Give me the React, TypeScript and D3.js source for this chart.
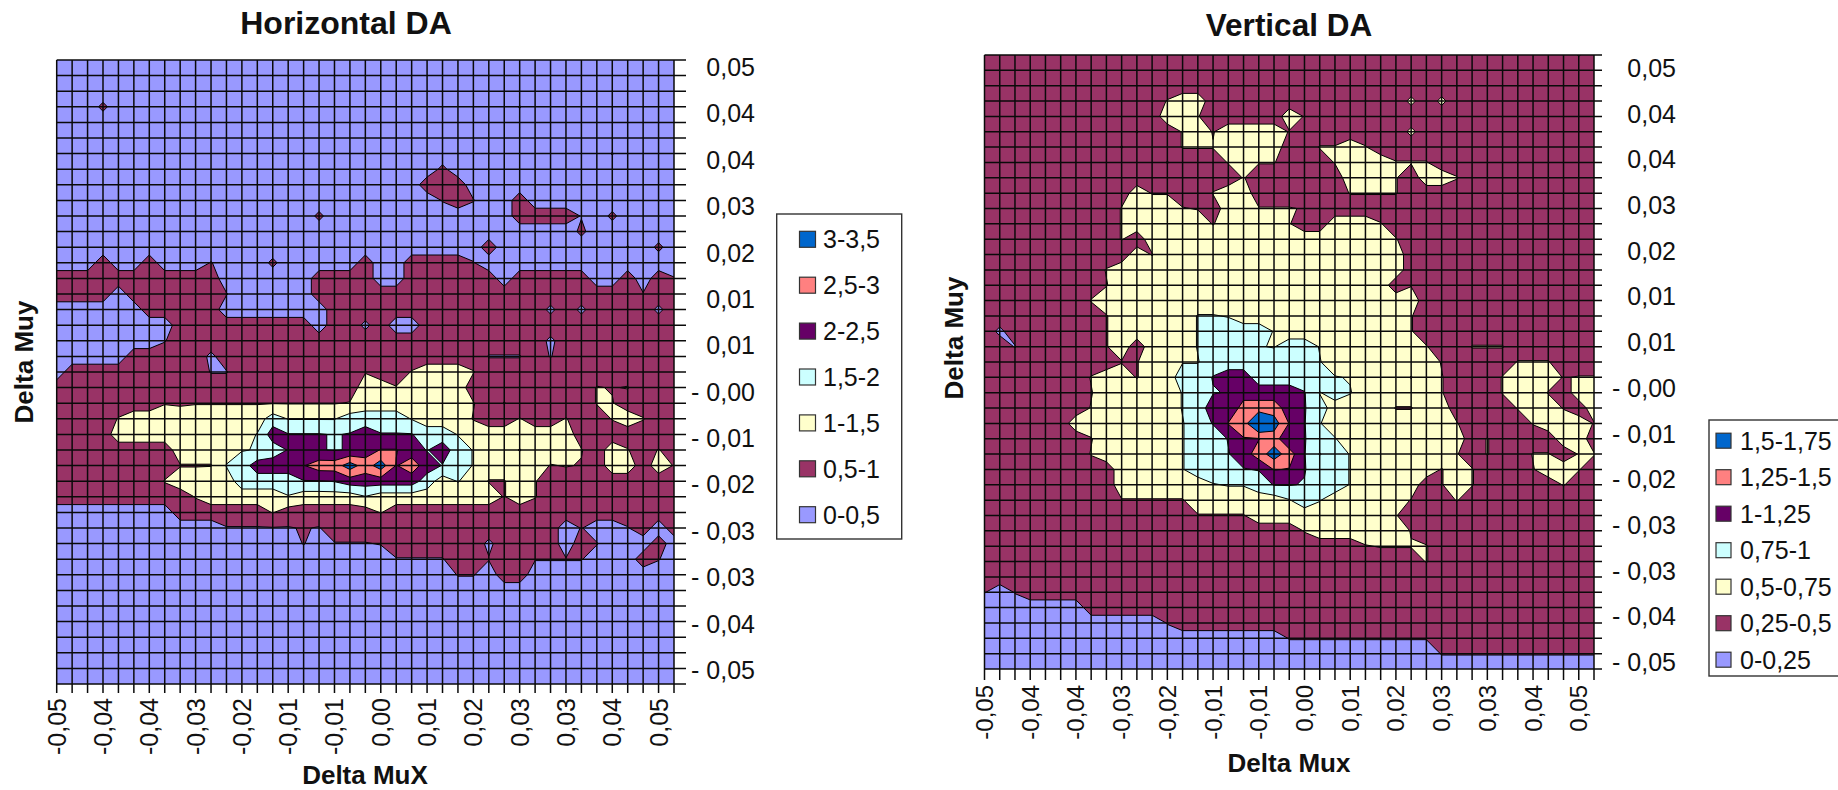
import React from "react";
import * as d3 from "d3";

// Node values are coded per grid node, one row per Delta Muy step, ten nodes per group.
// digit n = middle of band n; lower-case = just above the band's floor; upper-case = just under the next band;
// ~ small spot of band 1, + small spot of band 2, = small hole of band 0.
const H_ROWS = [
"0000000000 0000000000 0000000000 0000000000 0",
"0000000000 0000000000 0000000000 0000000000 0",
"0000000000 0000000000 0000000000 0000000000 0",
"000~000000 0000000000 0000000000 b000000000 0",
"0000000000 0000000000 0000000000 0000000000 0",
"0000000000 0000000000 0000000000 0000000000 0",
"0000000000 0000000000 0000000000 000000b000 0",
"0000000000 0000000000 00000~0000 0000000000 0",
"0000000000 0000000000 0000111000 0000000000 0",
"0000000000 0000000000 00000b1b00 1000000000 0",
"0000000000 0000000~00 0000000000 1111B0~000 0",
"0000000000 0000000000 0000000000 0000~00000 0",
"0000000000 0000000000 0000000010 0000000b0~ 0",
"0001001000 b000~00000 1001111b00 0000000000 0",
"1111111111 1000000111 1001111110 1111100101 b",
"1111011111 1b00000111 1111111111 11111111b1 1",
"0000001111 1000000011 1111111111 11=1=1111= 1",
"0000000011 1111111011 =100111111 1111111111 1",
"0000000B11 1111111111 1111111111 11=1111111 1",
"0000011111 =111111111 11111111BB B1B1111111 1",
"0111111111 BB11111111 C11c222c11 1111111111 1",
"1111111111 1111111111 22c2222111 11111cCc11 1",
"11111CCCCC CCCCCCCCCc 2222222c1c 11111cc111 1",
"1111ccc2+2 22223DDDD3 333D222C11 c11c11c2c1 1",
"1111222222 222d4eeeEe 4eee33D222 2222111111 1",
"1111111122 22Dd3e4eEe 4ff4E43D22 C222c12c1c 1",
"11111111CC Cd3444F556 56F54E3D22 22CcC12212 C",
"1111111c22 D23333EEe4 444432d2CC 2c11111111 1",
"111111111c 22222D2222 D22222222C 2c11111111 1",
"0000000011 1111c11111 1c11111111 1111111111 1",
"0000000000 0BBBBBbB11 1111111111 1110b00B10 1",
"0000000000 000000b0BB Bb111111=1 11101b0B01 0",
"0000000000 0000000000 00BBBB11b1 1bbbb0001b 0",
"0000000000 0000000000 000000bb01 1000000000 0",
"0000000000 0000000000 0000000000 0000000000 0",
"0000000000 0000000000 0000000000 0000000000 0",
"0000000000 0000000000 0000000000 0000000000 0",
"0000000000 0000000000 0000000000 0000000000 0",
"0000000000 0000000000 0000000000 0000000000 0",
"0000000000 0000000000 0000000000 0000000000 0",
"0000000000 0000000000 0000000000 0000000000 0",
];

const V_ROWS = [
"1111111111 1111111111 1111111111 111111111B 1",
"1111111111 1111111111 1111111111 1111111111 1",
"1111111111 1111111111 1111111111 1111111111 1",
"1111111111 11c2211111 11111111+1 +111111111 1",
"1111111111 1122c11111 2C11111111 1111111111 1",
"1111111111 c11c2C2222 CC111111+1 1111111111 1",
"111111111c 111ccc2222 11cc2c1111 1111111111 1",
"1111111111 11c111c2cc 111c222ccc 1111111111 1",
"1111111111 1111111c11 1111222c12 2c11111111 1",
"1111111111 2CC11c2211 1111cccc11 1111111111 1",
"111111111c 222cC122cc cC11111111 1111111111 1",
"111111111c 22222C2222 c11222c111 1111111111 1",
"111111111c 1222222222 c222222c11 1111111111 1",
"1111111111 2C22222222 2222222211 1111111111 1",
"11111111c2 2222222222 2222222211 11c1111111 1",
"11111111C2 2222222222 22222221C1 1111111111 1",
"1111111c22 2222222222 2222222221 1111111111 1",
"11111111C2 2222ddD222 22222222c1 1111111111 1",
"1=111111C2 2222d3333D 22222222c1 1111111111 1",
"11B11111C2 1222d333dD 33D222222c 11ccc111c1 1",
"111111111C C22DD33333 33d2222222 C1111ccc11 1",
"1111111c22 C2233e4433 333dD222C2 c111c222Cc c",
"1111111C22 222d3Ee444 4eD3d22222 c111c22C12 2",
"1111111c22 222d34e555 4e32222CC2 211c1c22C1 2",
"1111112222 222D3ef576 Fed2222222 2c1111c222 C",
"1111111C22 222D33eFF5 ee3d222222 221c111122 1",
"1111111c22 222D33E456 5eD3D22222 2c1c11cc1c c",
"1111111112 222D333Eef Fe33D22222 C2c111C22c 1",
"1111111112 22222Ddd3e eE33D22221 C2c11111c1 1",
"111111111C CCCC222222 D3d22222C1 1c11111111 1",
"1111111111 1111CCCC22 2222222c11 1111111111 1",
"1111111111 1111111111 1c222222C1 1111111111 1",
"1111111111 1111111111 11111Ccccc 1111111111 1",
"1111111111 1111111111 111111111c 1111111111 1",
"1111111111 1111111111 1111111111 1111111111 1",
"b0b1111111 1111111111 1111111111 1111111111 1",
"0000000111 1111111111 1111111111 1111111111 1",
"0000000000 00b1111111 1111111111 1111111111 1",
"0000000000 0000000000 bbbbbbbbbb 1111111111 1",
"0000000000 0000000000 0000000000 bbbbbbbbbb b",
"0000000000 0000000000 0000000000 0000000000 0",
];

const X_LABELS = ["-0,05","-0,04","-0,04","-0,03","-0,02","-0,01","-0,01","0,00","0,01","0,02","0,03","0,03","0,04","0,05"];
const Y_LABELS = ["0,05","0,04","0,04","0,03","0,02","0,01","0,01","- 0,00","- 0,01","- 0,02","- 0,03","- 0,03","- 0,04","- 0,05"];
const H_LEGEND = ["3-3,5","2,5-3","2-2,5","1,5-2","1-1,5","0,5-1","0-0,5"];
const V_LEGEND = ["1,5-1,75","1,25-1,5","1-1,25","0,75-1","0,5-0,75","0,25-0,5","0-0,25"];
const BAND_COLORS = ["#9999FF","#993366","#FFFFCC","#CCFFFF","#660066","#FF8080","#0066CC"];
const SPOT_LEVELS: Record<string, number> = { "~": 1.2, "+": 2.2, "=": 0.8 };

const FONT = "'Liberation Sans', Arial, sans-serif";

function decode(rows: string[], bandWidth: number): number[] {
  const out: number[] = [];
  for (const r of rows) {
    for (const ch of r.replace(/ /g, "")) {
      let level: number;
      if (ch in SPOT_LEVELS) level = SPOT_LEVELS[ch];
      else if (/[0-9]/.test(ch)) level = +ch + 0.5;
      else if (ch >= "a" && ch <= "z") level = ch.charCodeAt(0) - 97 + 0.05;
      else level = ch.charCodeAt(0) - 65 - 0.05;
      out.push(level * bandWidth);
    }
  }
  return out;
}

type PlotProps = {
  id: string; rows: string[]; band: number;
  left: number; right: number; top: number; bottom: number;
  tickRight: number; tickBottom: number;
  yLabelX: number; yLabelTop: number; yLabelBottom: number;
  xLabelY: number; xFont: number;
};

function Plot(p: PlotProps) {
  const n = 41;
  const x = d3.scaleLinear().domain([0, n - 1]).range([p.left, p.right]);
  const y = d3.scaleLinear().domain([0, n - 1]).range([p.top, p.bottom]);
  const values = decode(p.rows, p.band);
  const thresholds = d3.range(1, BAND_COLORS.length).map((k) => k * p.band);
  const polys = d3.contours().size([n, n]).thresholds(thresholds)(values);
  const proj = d3.geoTransform({
    point(this: any, a: number, b: number) {
      this.stream.point(x(a - 0.5), y(b - 0.5));
    },
  });
  const path = d3.geoPath(proj as any);
  const yLab = d3.scalePoint<string>().domain(Y_LABELS.map((_, i) => String(i))).range([p.yLabelTop, p.yLabelBottom]);
  return (
    <g>
      <clipPath id={p.id}>
        <rect x={p.left} y={p.top} width={p.right - p.left} height={p.bottom - p.top} />
      </clipPath>
      <rect x={p.left} y={p.top} width={p.right - p.left} height={p.bottom - p.top} fill={BAND_COLORS[0]} />
      <g clipPath={`url(#${p.id})`}>
        {polys.map((c: any, i: number) => (
          <path key={i} d={path(c) || ""} fill={BAND_COLORS[i + 1]} stroke="#000" strokeWidth={1} strokeLinejoin="round" />
        ))}
      </g>
      {d3.range(n).map((j) => (
        <line key={"h" + j} x1={p.left} x2={p.tickRight} y1={y(j)} y2={y(j)} stroke="#0a0a0a" strokeWidth={1.5} />
      ))}
      {d3.range(n).map((i) => (
        <line key={"v" + i} x1={x(i)} x2={x(i)} y1={p.top} y2={p.tickBottom} stroke="#0a0a0a" strokeWidth={1.5} />
      ))}
      {Y_LABELS.map((t, i) => (
        <text key={"yl" + i} x={p.yLabelX} y={yLab(String(i))} textAnchor="end" dominantBaseline="central" fontSize={25} fill="#111">{t}</text>
      ))}
      {X_LABELS.map((t, i) => (
        <text key={"xl" + i} transform={`translate(${x(i * 3)},${p.xLabelY}) rotate(-90)`} textAnchor="end" dominantBaseline="central" fontSize={p.xFont} fill="#111">{t}</text>
      ))}
    </g>
  );
}

function Legend({ labels, boxX, boxY, boxW, boxH, swX, sw, first, step, textX }: any) {
  return (
    <g>
      <rect x={boxX} y={boxY} width={boxW} height={boxH} fill="#fff" stroke="#333" strokeWidth={1.4} />
      {labels.map((t: string, i: number) => (
        <g key={t}>
          <rect x={swX} y={first + i * step - sw / 2} width={sw} height={sw} fill={BAND_COLORS[BAND_COLORS.length - 1 - i]} stroke="#333" strokeWidth={1.2} />
          <text x={textX} y={first + i * step} dominantBaseline="central" fontSize={25} fill="#111">{t}</text>
        </g>
      ))}
    </g>
  );
}

export default function App() {
  return (
    <svg width={1838} height={790} viewBox="0 0 1838 790" style={{ position: "absolute", left: 0, top: 0, background: "#fff", fontFamily: FONT }}>
      <Plot id="clipH" rows={H_ROWS} band={0.5} left={56.7} right={674} top={60} bottom={684}
        tickRight={686} tickBottom={693} yLabelX={755} yLabelTop={67} yLabelBottom={670} xLabelY={698} xFont={25} />
      <Plot id="clipV" rows={V_ROWS} band={0.25} left={984.5} right={1594} top={55} bottom={669}
        tickRight={1602} tickBottom={680} yLabelX={1676} yLabelTop={68} yLabelBottom={662} xLabelY={685} xFont={24} />

      <text x={346} y={23} textAnchor="middle" dominantBaseline="central" fontSize={32} fontWeight="bold" fill="#111">Horizontal DA</text>
      <text x={1289} y={24.5} textAnchor="middle" dominantBaseline="central" fontSize={31.5} fontWeight="bold" fill="#111">Vertical DA</text>
      <text x={365} y={784} textAnchor="middle" fontSize={26} fontWeight="bold" fill="#111">Delta MuX</text>
      <text x={1289} y={772} textAnchor="middle" fontSize={26} fontWeight="bold" fill="#111">Delta Mux</text>
      <text transform="translate(33,362) rotate(-90)" textAnchor="middle" fontSize={26} fontWeight="bold" fill="#111">Delta Muy</text>
      <text transform="translate(963,338) rotate(-90)" textAnchor="middle" fontSize={26} fontWeight="bold" fill="#111">Delta Muy</text>

      <Legend labels={H_LEGEND} boxX={776.7} boxY={214} boxW={125} boxH={325} swX={799.5} sw={16} first={239.3} step={45.9} textX={823} />
      <Legend labels={V_LEGEND} boxX={1709} boxY={420} boxW={140} boxH={256} swX={1716} sw={15} first={440.7} step={36.5} textX={1740} />
    </svg>
  );
}
